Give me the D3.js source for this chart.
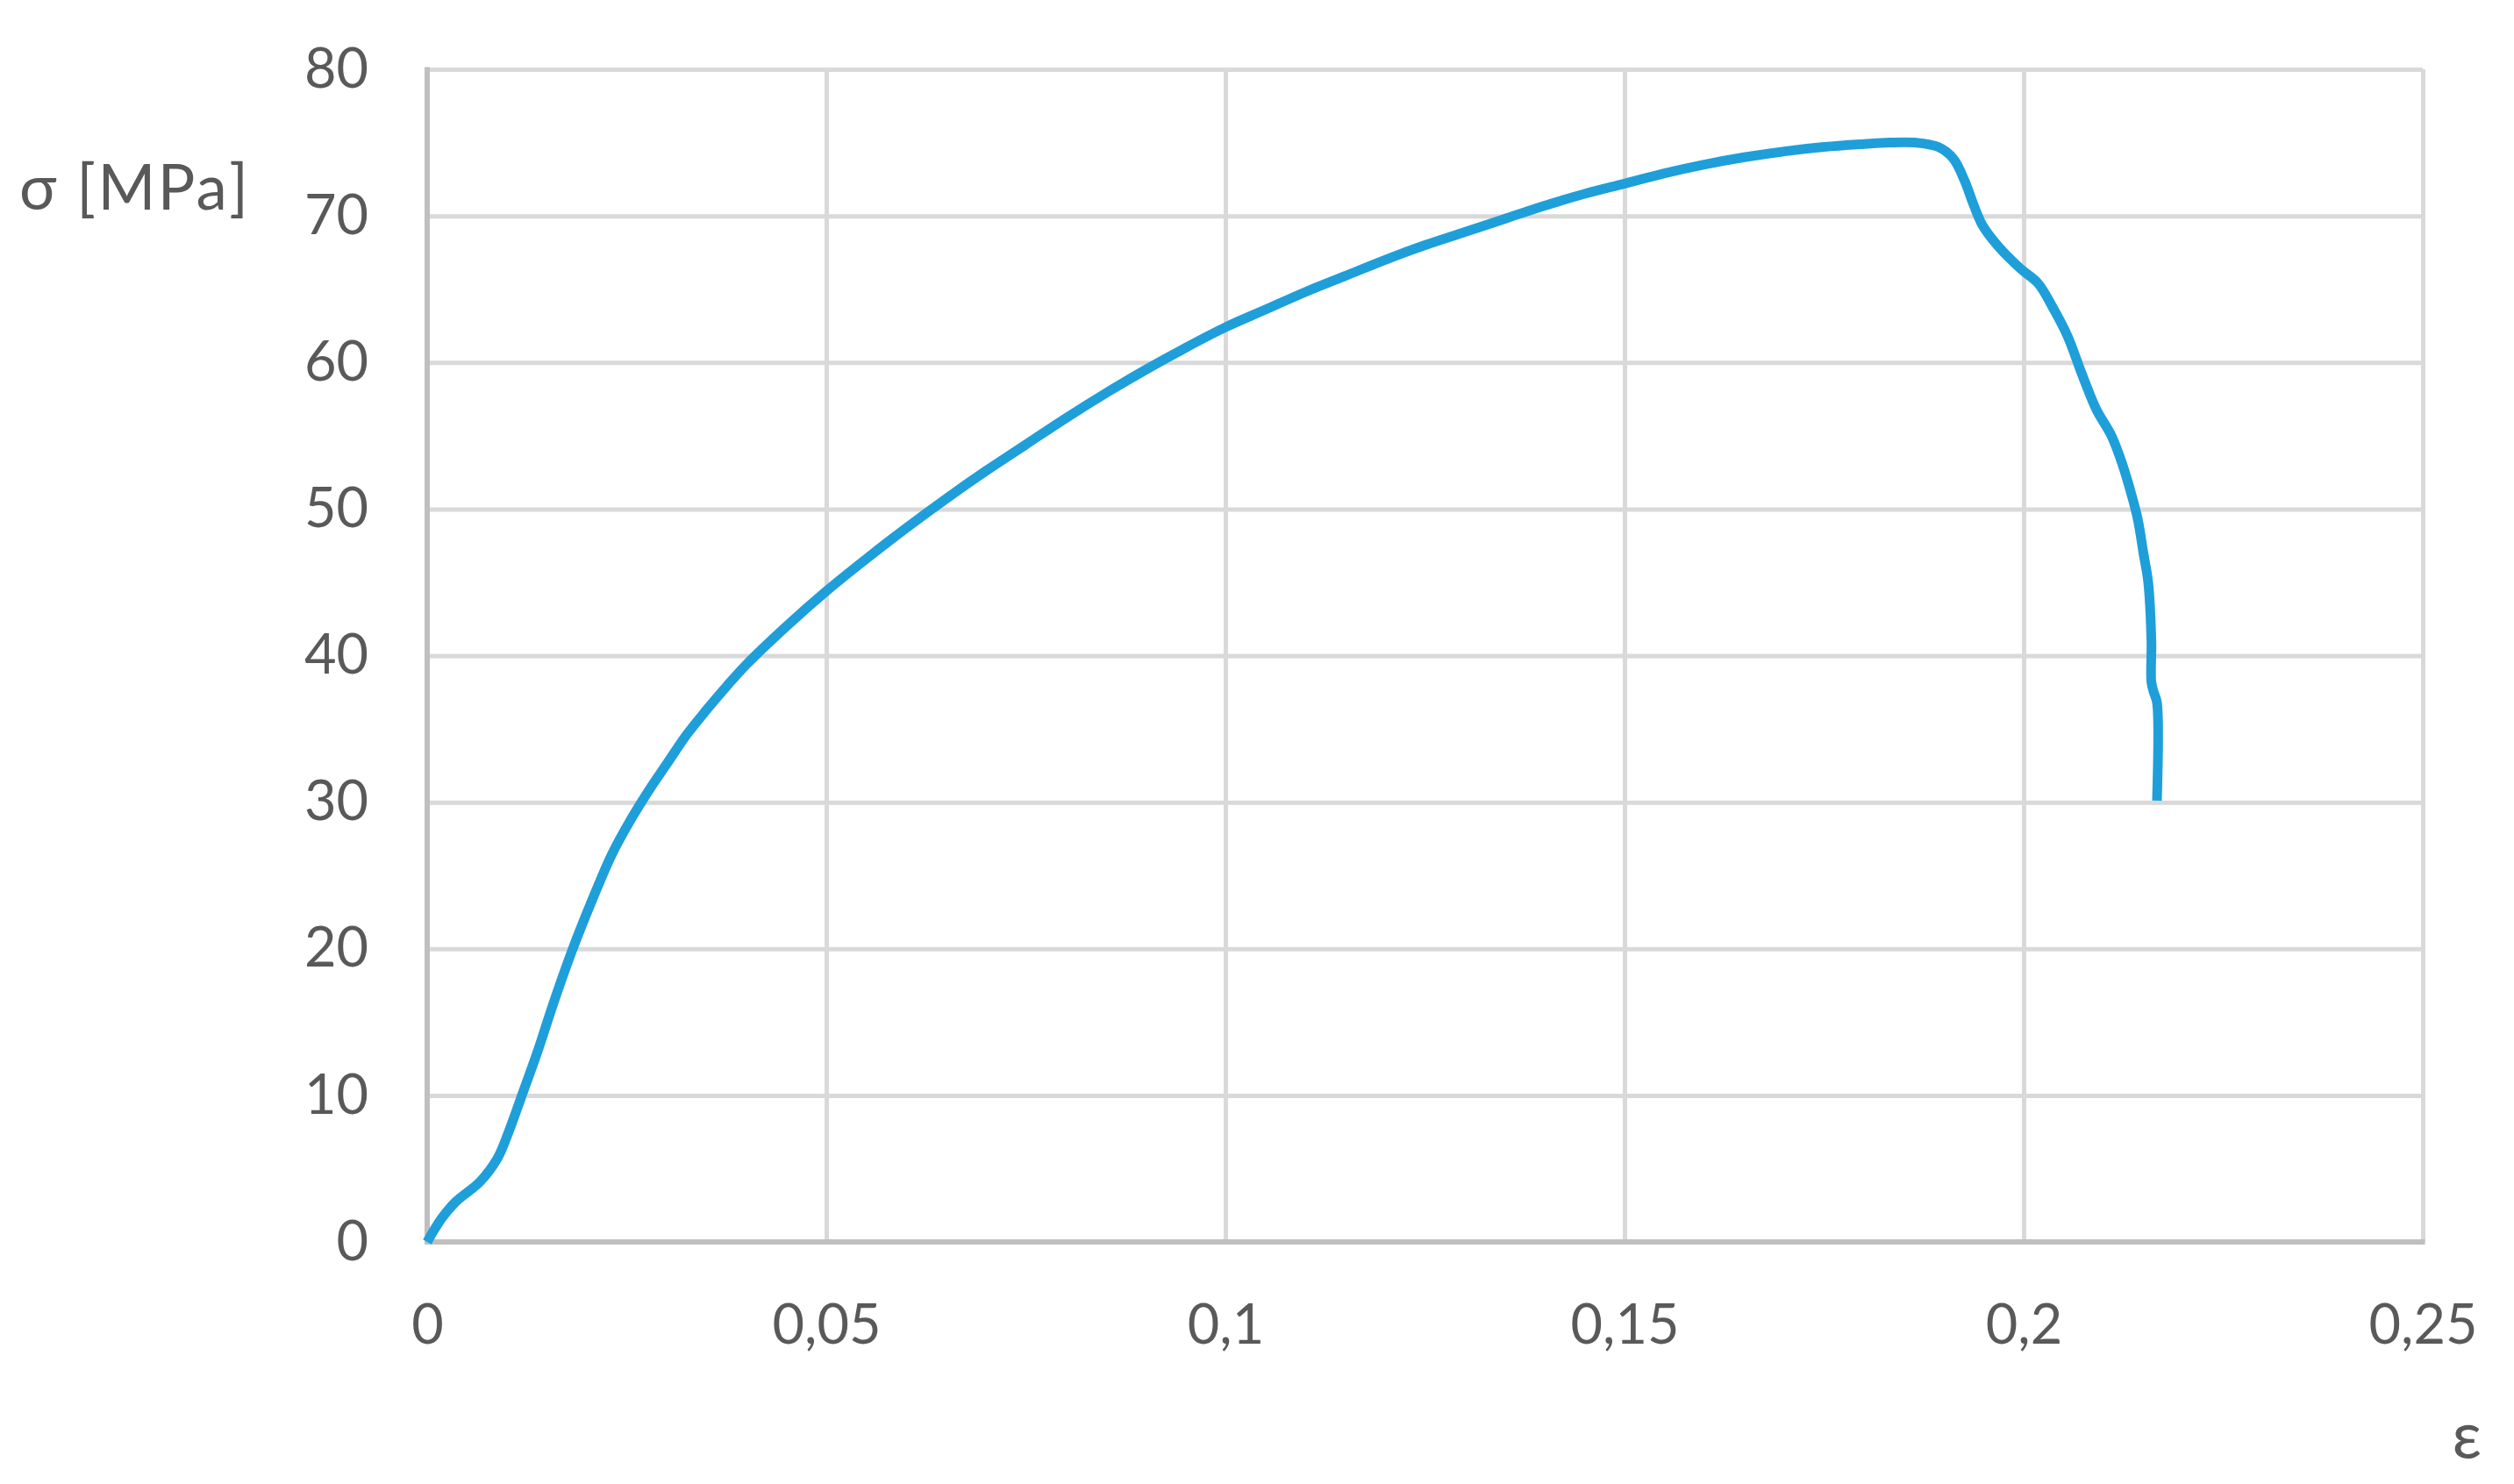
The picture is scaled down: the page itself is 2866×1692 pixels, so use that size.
<!DOCTYPE html>
<html>
<head>
<meta charset="utf-8">
<script src="https://cdn.jsdelivr.net/npm/d3@7"></script>
<style>
  html, body { margin: 0; padding: 0; background: #ffffff; }
  svg { display: block; }
  text { font-family: Lato, "Open Sans", "Noto Sans", sans-serif; fill: #595959; }
</style>
</head>
<body>
<svg id="chart" width="2866" height="1692"></svg>
<script>
// ---- data ----
const strain = [0, 0.0018, 0.0036, 0.0066, 0.0088, 0.0102, 0.0117, 0.0139, 0.0157, 0.0181,
  0.0205, 0.0231, 0.0256, 0.028, 0.03, 0.0325, 0.035, 0.0375, 0.04, 0.045,
  0.05, 0.055, 0.06, 0.065, 0.07, 0.075, 0.08, 0.085, 0.09, 0.095,
  0.1, 0.105, 0.11, 0.115, 0.12, 0.125, 0.13, 0.135, 0.14, 0.145,
  0.15, 0.155, 0.16, 0.165, 0.17, 0.175, 0.18, 0.1831, 0.1864, 0.1893,
  0.1912, 0.1926, 0.1937, 0.1948, 0.1967, 0.1996, 0.2018, 0.2036, 0.2055, 0.2073,
  0.2091, 0.211, 0.2124, 0.2135, 0.2143, 0.215, 0.2156, 0.216, 0.216, 0.2163,
  0.2167, 0.2167];
const stress = [0, 1.6, 2.75, 4.1, 5.7, 7.5, 9.75, 13.1, 16.1, 19.8,
  23.1, 26.4, 28.9, 31.0, 32.6, 34.6, 36.3, 37.9, 39.4, 42.0,
  44.4, 46.6, 48.7, 50.7, 52.6, 54.4, 56.2, 57.9, 59.5, 61.0,
  62.4, 63.6, 64.8, 65.9, 67.0, 68.0, 68.9, 69.8, 70.7, 71.5,
  72.2, 72.9, 73.5, 74.0, 74.4, 74.7, 74.9, 75.0, 75.0, 74.7,
  73.9, 72.4, 70.8, 69.4, 68.0, 66.4, 65.4, 63.8, 61.8, 59.2,
  56.8, 55.0, 53.0, 51.0, 49.3, 47.0, 45.0, 41.0, 38.2, 37.5,
  36.8, 30.1];
const xTicks = [0, 0.05, 0.1, 0.15, 0.2, 0.25];
const xTickLabels = ["0", "0,05", "0,1", "0,15", "0,2", "0,25"];
const yTicks = [0, 10, 20, 30, 40, 50, 60, 70, 80];
const yTickLabels = ["0", "10", "20", "30", "40", "50", "60", "70", "80"];
const yTitle = "σ [MPa]";
const xTitle = "ε";

// ---- layout ----
const plotLeft = 487, plotRight = 2762, plotTop = 79, plotBottom = 1416;
const plotW = plotRight - plotLeft, plotH = plotBottom - plotTop;

const svg = d3.select("#chart");
const x = d3.scaleLinear().domain([0, 0.25]).range([plotLeft, plotRight]);
const y = d3.scaleLinear().domain([0, 80]).range([plotBottom, plotTop]);

// gridlines
const gx = svg.append("g").attr("transform", `translate(0,${plotBottom})`)
  .call(d3.axisBottom(x).tickValues(xTicks.slice(1)).tickSize(-plotH).tickFormat(""));
gx.select(".domain").remove();
gx.selectAll("line").attr("stroke", "#d9d9d9").attr("stroke-width", 5);

const gy = svg.append("g").attr("transform", `translate(${plotLeft},0)`)
  .call(d3.axisLeft(y).tickValues(yTicks.slice(1)).tickSize(-plotW).tickFormat(""));
gy.select(".domain").remove();
gy.selectAll("line").attr("stroke", "#d9d9d9").attr("stroke-width", 5);

// axis lines (darker)
svg.append("line").attr("x1", x(0)).attr("x2", x(0.25) + 2.5)
  .attr("y1", y(0)).attr("y2", y(0)).attr("stroke", "#bfbfbf").attr("stroke-width", 6);
svg.append("line").attr("x1", x(0)).attr("x2", x(0))
  .attr("y1", y(80) - 2.5).attr("y2", y(0) + 3).attr("stroke", "#bfbfbf").attr("stroke-width", 6);

// tick labels
const lx = svg.append("g").attr("transform", `translate(0,${plotBottom})`)
  .call(d3.axisBottom(x).tickValues(xTicks).tickSize(0).tickPadding(71)
    .tickFormat((d, i) => xTickLabels[i]));
lx.select(".domain").remove();
lx.selectAll("text").attr("font-size", 63).attr("fill", "#595959")
  .style("font-family", 'Lato, "Open Sans", sans-serif');

const ly = svg.append("g").attr("transform", `translate(${plotLeft},0)`)
  .call(d3.axisLeft(y).tickValues(yTicks).tickSize(0).tickPadding(67)
    .tickFormat((d, i) => yTickLabels[i]));
ly.select(".domain").remove();
ly.selectAll("text").attr("font-size", 63).attr("fill", "#595959")
  .style("font-family", 'Lato, "Open Sans", sans-serif');

// axis titles
svg.append("text").attr("x", 22).attr("y", 239).attr("font-size", 71)
  .attr("text-anchor", "start")
  .attr("textLength", 261).attr("lengthAdjust", "spacing").text(yTitle);
svg.append("text").attr("x", 2829).attr("y", 1663).attr("font-size", 74)
  .attr("text-anchor", "end").text(xTitle);

// curve
const pts = strain.map((e, i) => [e, stress[i]]);
const lineGen = d3.line().x(d => x(d[0])).y(d => y(d[1]))
  .curve(d3.curveCatmullRom.alpha(0.5));
svg.append("path").datum(pts).attr("d", lineGen)
  .attr("fill", "none").attr("stroke", "#1e9fd9").attr("stroke-width", 11)
  .attr("stroke-linejoin", "round").attr("stroke-linecap", "butt");
</script>
</body>
</html>
